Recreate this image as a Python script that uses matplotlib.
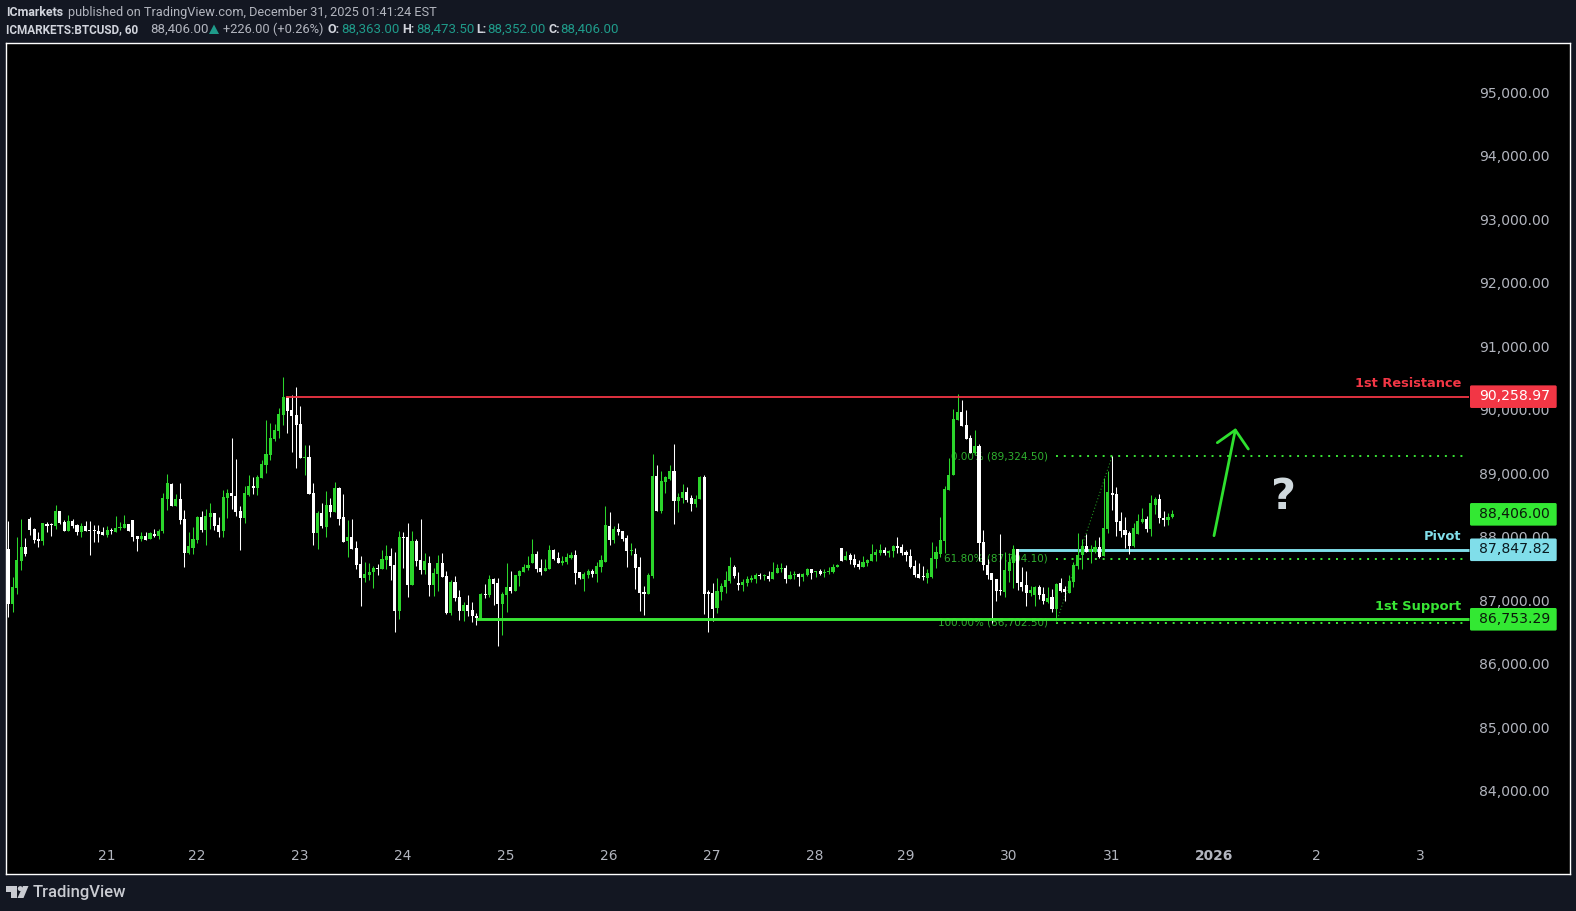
import numpy as np
import matplotlib
matplotlib.use("Agg")
import matplotlib.pyplot as plt
from matplotlib.patches import FancyBboxPatch, Polygon, Circle
from matplotlib.transforms import ScaledTranslation

# hourly candles
opens = [87859,86993,87245,87670,87891,88332,88174,88017,87985,88253,88248,88222,88458,88285,88143,88300,88237,88127,88222,88158,
         88158,88143,88127,88080,88158,88127,88185,88190,88253,88316,88064,88017,88064,88017,88095,88064,88143,88647,88883,88537,
         88647,88332,87796,87875,88001,88363,88158,88363,88426,88237,88143,88662,88741,88694,88458,88348,88710,88852,88820,88977,
         89182,89340,89592,89718,89970,90253,90049,89970,89828,89293,89308,88741,88111,88426,88206,88552,88442,88820,88363,87985,
         88050,87877,87625,87404,87451,87499,87562,87546,87687,87750,87609,86884,88050,88050,87294,87987,87687,87530,87640,87294,
         87467,87640,87436,86853,87341,87105,86884,86979,86900,86806,86753,87152,87136,87388,87325,86995,87136,87262,87199,87436,
         87499,87562,87640,87782,87562,87514,87546,87845,87719,87640,87656,87719,87766,87499,87388,87451,87514,87467,87577,87656,
         88223,88003,88176,88144,88034,87829,87782,87577,87184,87152,87436,89011,88459,88916,88958,89089,88617,88664,88759,88664,
         88570,88648,88995,87184,87168,86932,87184,87262,87357,87577,87325,87294,87325,87373,87388,87451,87436,87436,87388,87483,
         87546,87562,87388,87451,87467,87420,87451,87546,87499,87514,87483,87499,87499,87577,87877,87687,87766,87703,87625,87577,
         87640,87672,87766,87798,87845,87798,87829,87908,87892,87813,87750,87593,87467,87436,87404,87420,87703,87782,87987,88790,
         89025,89891,90017,89813,89608,89372,89482,87970,87608,87482,87387,87214,87182,87513,87639,87860,87340,87293,87167,87135,
         87261,87151,87025,87104,86915,87324,87230,87167,87340,87592,87765,87907,87812,87812,87891,87749,88175,88742,88726,88301,
         88159,88112,87907,88096,88285,88332,88175,88553,88647,88348,88317,88363]
highs = [88300,87418,88048,88332,88032,88363,88190,88127,88269,88285,88269,88552,88458,88316,88395,88332,88253,88269,88300,88300,
         88237,88237,88206,88222,88190,88379,88285,88395,88253,88316,88064,88127,88127,88127,88174,88174,88741,89040,88899,88726,
         88899,88474,88127,88206,88379,88458,88489,88584,88426,88363,88789,88804,89608,89277,88537,88852,89025,88993,89025,89261,
         89891,89844,89828,90080,90568,90269,90285,90411,90112,89497,89497,88899,88458,88584,88773,88662,88914,88836,88726,88316,
         88333,87987,87750,87656,87640,87593,87625,87845,87924,87877,87813,88144,88129,88270,88144,88018,88333,87798,87750,87562,
         87766,87798,87514,87373,87436,87215,87026,87136,87026,86853,87168,87310,87451,87404,87404,87184,87640,87514,87451,87530,
         87625,87750,88018,87829,87703,87703,87924,87861,87813,87750,87798,87813,87845,87499,87499,87546,87546,87656,87766,88538,
         88444,88223,88270,88144,88081,87955,87877,87735,87278,87483,89357,89184,89089,89011,89184,89515,88743,88885,88837,88711,
         88711,89011,89026,87215,87325,87404,87325,87514,87735,87609,87499,87388,87436,87451,87483,87483,87467,87514,87656,87625,
         87640,87609,87514,87514,87483,87483,87562,87546,87514,87546,87546,87577,87625,87625,87877,87829,87798,87782,87687,87750,
         87703,87940,87861,87940,87892,87845,87924,88050,87940,87845,87861,87687,87640,87593,87546,87971,87908,88365,88853,89294,
         90065,90301,90206,90049,89655,89734,89513,88159,87702,87482,87387,88096,87812,87797,87923,87860,87576,87513,87277,87277,
         87293,87261,87261,87230,87324,87403,87277,87450,87655,88112,88017,88096,87923,88002,88049,88978,89088,89324,88836,88443,
         88364,88143,88269,88411,88505,88380,88710,88679,88726,88458,88427,88473.5]
lows = [86794,86872,87150,87528,87749,88080,87954,87891,87922,88127,88064,88174,88253,88143,88143,88190,88080,88048,88143,87765,
        87970,87970,88080,88048,88095,88127,88158,88190,88143,87985,87828,87985,88001,88017,88048,88017,88111,88474,88537,88537,
        88253,87576,87780,87780,87954,88127,87922,88174,88158,88048,88048,88348,88489,88379,87843,88269,88694,88726,88710,88977,
        89056,89261,89560,89608,89812,89686,89387,89135,89293,89025,88726,87922,87859,88190,88048,88363,88442,88237,87970,87733,
        87861,87546,86963,87341,87373,87247,87451,87546,87546,87373,86553,86758,87562,87105,87294,87593,87467,87467,87120,87120,
        87199,87420,86837,86821,87042,86743,86727,86806,86711,86664,86753,87089,87105,86979,86333,86506,86869,87168,87199,87278,
        87499,87530,87640,87499,87451,87514,87546,87687,87640,87609,87625,87703,87310,87388,87199,87404,87420,87341,87499,87656,
        87924,87955,88081,87987,87577,87766,87231,86884,86821,87152,87404,88459,88428,88743,88947,88255,88444,88585,88601,88459,
        88522,88648,86837,86553,86727,86853,87058,87168,87325,87404,87215,87199,87278,87341,87325,87388,87373,87357,87388,87483,
        87499,87325,87388,87388,87278,87357,87436,87388,87420,87451,87420,87467,87483,87577,87672,87687,87625,87577,87546,87577,
        87593,87672,87672,87766,87766,87735,87735,87798,87766,87672,87562,87420,87404,87373,87325,87404,87562,87735,87798,88790,
        89025,89891,89797,89592,89372,89356,87671,87529,87387,86694,87041,87135,87104,87340,87245,87214,87198,86962,87120,86962,
        87072,86993,87009,86868,86773,87182,87041,87167,87261,87545,87545,87812,87639,87797,87718,87749,88112,88474,88064,88049,
        87875,87781,87891,88096,88269,88128,88064,88411,88269,88222,88238,88352]
closes = [86993,87261,87686,87891,87775,88158,88001,87985,88269,88222,88232,88458,88269,88143,88300,88222,88127,88222,88143,88143,
          88143,88095,88080,88158,88143,88190,88206,88253,88143,88048,88017,88064,88001,88111,88064,88143,88662,88899,88537,88647,
          88316,87796,87906,88017,88363,88158,88379,88426,88222,88127,88678,88741,88694,88442,88348,88741,88852,88820,88993,89198,
          89355,89608,89733,89985,90253,90033,89954,89812,89293,89308,88726,88111,88426,88222,88552,88442,88820,88332,87970,88048,
          87861,87609,87404,87467,87499,87562,87546,87703,87750,87593,86884,88050,88034,87294,87987,87672,87530,87672,87294,87483,
          87640,87420,86853,87341,87089,86884,86979,86884,86806,86774,87152,87136,87388,87310,86995,87152,87262,87199,87451,87514,
          87577,87609,87782,87546,87499,87562,87845,87703,87640,87672,87735,87766,87483,87404,87467,87514,87467,87593,87687,88239,
          88003,88176,88129,88018,87829,87845,87562,87168,87152,87451,89011,88459,88932,88995,89089,88617,88680,88759,88632,88570,
          88648,88995,87152,87152,86916,87199,87278,87373,87593,87436,87294,87341,87388,87404,87451,87436,87451,87388,87499,87562,
          87562,87388,87451,87467,87420,87467,87546,87483,87514,87467,87499,87514,87577,87609,87672,87750,87687,87609,87577,87656,
          87687,87782,87813,87845,87798,87829,87908,87877,87798,87766,87577,87451,87404,87420,87483,87719,87813,88003,88806,89026,
          89907,90017,89797,89592,89372,89482,87954,87608,87450,87372,87198,87198,87529,87655,87860,87324,87261,87167,87214,87261,
          87135,87041,87088,86915,87309,87198,87182,87356,87608,87765,87907,87812,87860,87891,87734,88191,88758,88710,88285,88143,
          88080,87907,88191,88301,88332,88175,88584,88647,88348,88317,88364,88406]

price_ticks = [84000, 85000, 86000, 87000, 88000, 89000, 90000, 91000, 92000, 93000, 94000, 95000]
day_pos = [22.9, 43.9, 67.8, 91.9, 115.8, 139.9, 163.7, 187.8, 208.9, 232.8, 256.9, 280.7, 304.6, 328.7]
day_labels = ["21", "22", "23", "24", "25", "26", "27", "28", "29", "30", "31", "2026", "2", "3"]

resistance = 90258.97
pivot = 87847.82
support = 86753.29
last_price = 88406.00
fib_levels = [89324.50, 87704.10, 86702.50]
fib_labels = ["0.00% (89,324.50)", "61.80% (87,704.10)", "100.00% (86,702.50)"]

W, H = 1576, 911
BG = "#131722"
GREEN = "#2bd52b"
LINE_GREEN = "#39e635"
FIB_GREEN = "#2fb02f"
RED = "#f23645"
BLUE = "#80deea"
GREY = "#b2b5be"
TEAL = "#1f9b8a"

plt.rcParams["font.family"] = ["DejaVu Sans"]

fig = plt.figure(figsize=(W / 100, H / 100), dpi=100, facecolor=BG)
ax = fig.add_axes([6 / W, 1 - 874 / H, 1564 / W, (874 - 43.3) / H], facecolor="black")

x = np.arange(len(opens))
o, h, l, c = map(np.array, (opens, highs, lows, closes))
colors = np.where(c >= o, GREEN, "#ffffff")

ax.vlines(x, l, h, colors=colors, lw=0.75, zorder=3)
ax.bar(x, np.abs(c - o), bottom=np.minimum(o, c), width=0.72, color=colors, lw=0, zorder=3)

# levels
ax.hlines(pivot, 235, 340, color=BLUE, lw=2.1, zorder=2)
ax.hlines(resistance, 64.7, 340, color=RED, lw=1.3, zorder=4)
ax.hlines(support, 109, 340, color=LINE_GREEN, lw=2.1, zorder=4)

# fib tool
for lev, lab in zip(fib_levels, fib_labels):
    ax.hlines(lev, 244, 339.5, color=LINE_GREEN, lw=1.4, linestyles=(0, (1, 3)), zorder=1.5)
    ax.text(242, lev, lab, color=FIB_GREEN, fontsize=7.5, ha="right", va="center", zorder=1)
ax.plot([244, 257], [fib_levels[2], fib_levels[0]], color="#1f8f1f", lw=0.8, ls=(0, (1, 2)), zorder=1.5)

# level names
for name, lev, col in [("1st Resistance", resistance, RED), ("Pivot", pivot, BLUE), ("1st Support", support, LINE_GREEN)]:
    ax.annotate(name, (338.2, lev), xytext=(0, 9.5), textcoords="offset points",
                color=col, fontsize=9.4, fontweight="bold", ha="right", va="center", zorder=5)

ax.set_xlim(-0.536, 363.6)
ax.set_ylim(82742, 95824)

ax.set_yticks(price_ticks)
ax.set_yticklabels([f"{p:,.2f}" for p in price_ticks])
ax.yaxis.tick_right()
ax.tick_params(axis="y", length=0, pad=-14.4, labelcolor=GREY, labelsize=10.1)
lift = ScaledTranslation(0, 2.5 / 72, fig.dpi_scale_trans)
for lab in ax.get_yticklabels():
    lab.set_ha("right")
    lab.set_transform(lab.get_transform() + lift)

ax.set_xticks(day_pos)
ax.set_xticklabels(day_labels)
ax.tick_params(axis="x", length=0, pad=-18, labelcolor=GREY, labelsize=9.9)
ax.get_xticklabels()[11].set_fontweight("bold")

for s in ax.spines.values():
    s.set_color("#ffffff")
    s.set_linewidth(1.0)

# everything outside the price scale, in picture pixels
ov = fig.add_axes([0, 0, 1, 1])
ov.set_xlim(0, W)
ov.set_ylim(H, 0)
ov.axis("off")


def tag(price, col, txt_col, txt):
    y = H - ax.transData.transform((0, price))[1]
    ov.add_patch(FancyBboxPatch((1470, y - 11.3), 86.7, 22.6, boxstyle="round,pad=0,rounding_size=1.5",
                                fc=col, ec="none"))
    ov.text(1550, y - 0.5, txt, color=txt_col, fontsize=10.1, ha="right", va="center")


tag(resistance, RED, "#ffffff", f"{resistance:,.2f}")
tag(last_price, "#33e833", "#0a1a0a", f"{last_price:,.2f}")
tag(pivot, BLUE, "#0a1a20", f"{pivot:,.2f}")
tag(support, "#33e833", "#0a1a0a", f"{support:,.2f}")

# hand drawn arrow and question mark
ov.plot([1214, 1235.3], [535.7, 430], color="#2fe02f", lw=2.0, solid_capstyle="round")
ov.plot([1217.3, 1235.3, 1248.3], [442.7, 430, 449], color="#2fe02f", lw=2.0, solid_capstyle="round")
ov.text(1284, 497, "?", color="#cfd8dc", fontsize=31, fontweight="bold", ha="center", va="center")

# header
HF = ["Roboto", "DejaVu Sans"]
ov.text(6, 12.5, "ICmarkets", color="#d1d4dc", fontsize=8.9, fontweight="bold", family=HF, va="center")
ov.text(67.8, 12.5, "published on TradingView.com, December 31, 2025 01:41:24 EST", color=GREY, fontsize=9.15,
        family=HF, va="center")
row2 = [(6, "ICMARKETS:BTCUSD, 60", "#d1d4dc", "bold", 8.5), (150.2, "88,406.00", GREY, "normal", 9.5),
        (223.3, "+226.00 (+0.26%)", GREY, "normal", 9.3), (327.8, "O:", "#d1d4dc", "bold", 9.0),
        (341.3, "88,363.00", TEAL, "normal", 9.5), (402, "H:", "#d1d4dc", "bold", 9.0),
        (416.4, "88,473.50", TEAL, "normal", 9.5), (476.4, "L:", "#d1d4dc", "bold", 9.0),
        (487.4, "88,352.00", TEAL, "normal", 9.5), (549, "C:", "#d1d4dc", "bold", 9.0),
        (560, "88,406.00", TEAL, "normal", 9.5)]
for px, s, col, wt, fs in row2:
    ov.text(px, 29.5, s, color=col, fontsize=fs, fontweight=wt, family=HF, va="center")
ov.add_patch(Polygon([(209, 34), (219, 34), (214, 24.5)], fc=TEAL, ec="none"))

# logo
ov.add_patch(Polygon([(6, 886), (17, 886), (17, 898), (11.5, 898), (11.5, 891.5), (6, 891.5)], fc="#c9cbd1", ec="none"))
ov.add_patch(Circle((20.3, 888.6), 2.5, fc="#c9cbd1", ec="none"))
ov.add_patch(Polygon([(28.5, 886), (23.5, 898), (17.5, 898), (23, 886)], fc="#c9cbd1", ec="none"))
ov.text(33, 892.5, "TradingView", color="#c9cbd1", fontsize=12, fontweight="medium", family=["Roboto", "DejaVu Sans"],
        va="center")

fig.savefig("out.png", dpi=100, facecolor=BG)
